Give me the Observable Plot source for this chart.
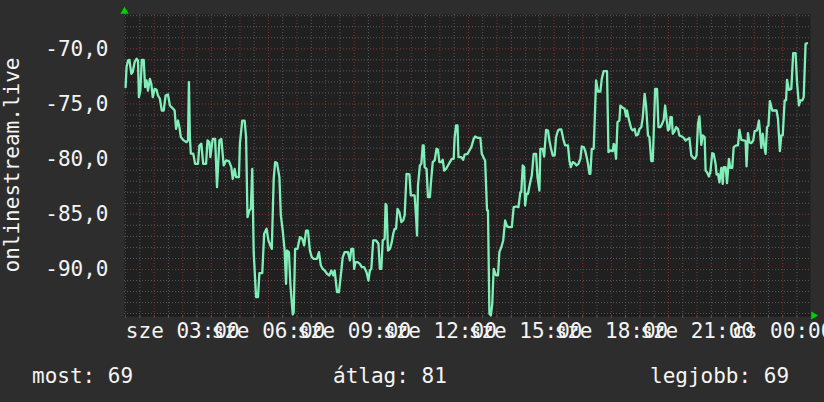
<!DOCTYPE html>
<html><head><meta charset="utf-8">
<script src="https://cdn.jsdelivr.net/npm/d3@7"></script>
<script src="https://cdn.jsdelivr.net/npm/@observablehq/plot@0.6"></script>
<style>
html,body{margin:0;padding:0;background:#2d2d2d;}
#wrap{width:824px;height:402px;position:relative;overflow:hidden;background:#2d2d2d;font-family:"DejaVu Sans Mono",monospace;color:#f4f4f4;}
#footer{position:relative;height:47px;font-size:21px;line-height:24px;}
#footer span{position:absolute;top:9px;white-space:pre;}
svg{display:block}
</style></head><body><div id="wrap"><div id="chart"></div><div id="footer"></div></div>
<script>
// minutes since 00:00 on "sze" (Wednesday)
const minutes = [60,62,65,68,72,75,79,83,86,88,91,94,98,101,104,107,111,114,117,121,125,128,132,136,140,144,149,153,158,163,166,170,173,176,182,188,191,193,195,197,202,206,212,215,219,223,229,232,236,238,243,248,252,257,261,266,271,277,282,285,289,292,298,300,
305,310,313,316,320,323,326,329,334,338,341,347,351,356,360,364,367,371,374,378,383,386,390,394,397,399,403,406,411,413,416,421,426,431,435,439,443,447,451,455,462,466,470,474,478,483,488,492,496,499,504,508,512,516,520,527,531,534,538,
540,543,547,552,556,561,566,570,573,576,580,586,591,594,597,600,604,606,608,611,615,619,622,625,628,631,635,639,643,646,650,656,659,667,670,672,674,678,681,684,686,688,692,695,699,701,705,709,713,716,719,723,726,729,733,737,741,745,749,751,754,757,759,765,769,772,778,782,786,
788,791,794,799,805,808,812,815,819,821,824,827,830,833,838,842,845,849,853,857,861,865,871,875,880,885,889,891,894,897,899,902,905,909,913,917,922,925,929,931,936,939,943,947,950,953,957,961,964,968,971,975,979,983,989,992,995,999,1003,1007,1011,1015,1018,1022,1025,1029,
1031,1034,1036,1039,1043,1045,1048,1052,1057,1060,1064,1071,1074,1078,1083,1085,1087,1090,1093,1097,1099,1104,1108,1111,1113,1117,1122,1125,1129,1132,1136,1139,1143,1146,1150,1153,1157,1160,1164,1167,1169,1172,1176,1179,1183,1186,1190,1193,1196,1199,1202,1204,1207,1209,1213,1216,1220,1223,1228,1232,1236,1241,1244,1248,1252,1255,1259,1262,1265,1269,1272,
1276,1278,1281,1285,1288,1292,1295,1299,1301,1304,1307,1311,1314,1316,1320,1323,1327,1330,1334,1337,1342,1346,1349,1353,1360,1362,1364,1367,1370,1374,1378,1381,1386,1390,1392,1395,1398,1400,1404,1407,1410,1413,1418,1427,1430,1434,1437,1440,1444,1447,1449,1453,1458,1462,1467,1470,1474,1477,1481,1484,1488,1491];
const dbValues = [-73.47,-71.66,-71.06,-71.0,-72.27,-72.1,-71.2,-70.9,-71.06,-74.38,-73.78,-71.0,-71.0,-73.47,-72.87,-73.78,-72.72,-73.17,-74.38,-73.63,-73.72,-74.23,-74.53,-75.59,-75.59,-74.23,-74.14,-75.14,-75.35,-75.59,-77.25,-76.5,-77.1,-78.0,-78.3,-78.46,-78.3,-73.02,-78.0,-79.5,-79.5,-80.42,-80.42,-78.76,-78.6,-80.42,-80.42,-78.3,-78.46,-79.82,-78.16,-78.16,-82.54,-78.3,-78.16,-80.57,-80.12,-80.18,-80.72,-81.78,-80.88,-81.63,-81.63,-78.6,
-76.5,-76.5,-78.0,-85.26,-84.65,-84.5,-80.88,-88.43,-92.5,-92.5,-90.33,-90.33,-86.77,-86.31,-87.37,-87.82,-88.13,-81.78,-80.27,-80.36,-81.63,-85.1,-86.47,-88.28,-91.3,-88.28,-88.43,-91.3,-94.08,-93.87,-88.13,-88.13,-87.07,-87.22,-87.82,-86.47,-86.47,-88.28,-88.88,-89.03,-89.03,-88.43,-89.64,-89.94,-90.09,-90.39,-90.54,-90.09,-90.54,-90.09,-92.05,-92.05,-90.54,-88.88,-88.43,-88.43,-89.18,-88.13,-88.13,
-89.94,-89.33,-89.33,-89.49,-89.79,-89.79,-90.24,-91.0,-90.09,-89.94,-87.37,-87.37,-87.67,-89.94,-89.94,-87.37,-87.22,-84.05,-84.2,-88.28,-88.13,-87.52,-86.77,-86.31,-86.31,-84.5,-84.8,-85.71,-85.56,-85.11,-81.33,-81.39,-83.29,-83.29,-85.26,-86.92,-82.39,-80.57,-80.42,-78.76,-78.76,-80.73,-80.88,-83.44,-83.44,-82.24,-80.27,-80.12,-79.06,-79.15,-80.27,-80.27,-80.06,-81.03,-80.88,-80.57,-80.27,-79.97,-79.97,-78.0,-76.95,-76.95,-79.82,-79.82,-80.06,-79.58,-79.52,-79.21,-78.91,
-78.61,-78.16,-77.95,-78.07,-78.07,-79.52,-79.88,-80.12,-84.65,-84.65,-94.02,-94.17,-93.11,-89.94,-90.54,-90.54,-88.43,-87.98,-87.37,-85.56,-86.1,-86.16,-86.16,-84.35,-84.29,-84.35,-82.99,-82.99,-80.57,-80.73,-84.2,-83.14,-83.14,-82.24,-81.48,-79.52,-79.52,-81.63,-82.84,-79.06,-79.06,-79.76,-77.34,-77.4,-78.31,-78.97,-79.67,-79.67,-78.0,-77.4,-77.31,-77.31,-78.16,-78.76,-78.76,-80.12,-80.73,-80.27,-80.36,-80.57,-80.42,-79.97,-78.85,-78.91,-79.21,-79.97,
-80.42,-81.33,-81.33,-79.06,-79.06,-76.65,-72.87,-73.87,-73.87,-72.72,-72.02,-72.02,-79.37,-79.21,-79.27,-78.61,-78.76,-79.97,-76.65,-76.5,-75.14,-75.35,-75.44,-76.13,-75.59,-76.44,-77.25,-77.4,-77.25,-77.85,-77.76,-77.28,-77.1,-76.25,-74.08,-75.14,-77.85,-78.0,-80.18,-80.18,-77.7,-73.63,-73.63,-77.1,-77.1,-76.86,-76.44,-75.14,-76.34,-77.4,-77.25,-76.19,-76.19,-77.7,-77.46,-77.1,-77.25,-77.85,-77.95,-78.07,-78.31,-78.16,-78.07,-79.67,-79.88,-79.97,-79.67,-76.8,-76.13,-78.7,-77.85,
-78.0,-81.03,-81.18,-81.57,-81.18,-79.46,-79.52,-80.42,-81.39,-81.33,-82.11,-80.79,-82.24,-80.73,-80.73,-82.18,-79.97,-80.79,-80.79,-78.91,-78.76,-78.76,-77.34,-78.25,-78.31,-78.37,-80.66,-77.64,-78.46,-78.55,-78.31,-77.46,-77.4,-76.5,-77.4,-78.97,-77.7,-78.46,-79.52,-77.1,-76.95,-74.74,-75.59,-75.59,-76.34,-79.27,-77.85,-77.85,-74.68,-74.68,-72.81,-73.72,-73.63,-70.39,-70.39,-73.02,-75.14,-74.68,-74.68,-74.38,-69.55,-69.49];

const xDomain = [57.7, 1498.3];          // 00:58 .. 00:58 next day
const yDomain = [-94.17, -66.89];
const yMajor = [-90, -85, -80, -75, -70];
const xTickMinutes = [180, 360, 540, 720, 900, 1080, 1260, 1440];
const xTickLabels = ["sze 03:00","sze 06:00","sze 09:00","sze 12:00","sze 15:00","sze 18:00","sze 21:00","cs 00:00"];
const yAxisLabel = "onlinestream.live";
const summaryNames = ["most", "átlag", "legjobb"];
const summaryValues = [69, 81, 69];

const data = minutes.map((m, i) => ({m, v: dbValues[i]}));
const yMinor = d3.range(-94, -66).filter(v => v % 5 !== 0);
const xMajor = d3.range(60, 1441, 60);
const xMinor = d3.range(90, 1471, 60);

const minorC = "#585858", majorC = "#7e3636";
const chart = Plot.plot({
  width: 824, height: 355,
  marginLeft: 124, marginRight: 14, marginTop: 14, marginBottom: 40,
  style: {background: "#2d2d2d", color: "#f4f4f4", fontFamily: "'DejaVu Sans Mono', monospace", fontSize: "21px", overflow: "visible"},
  x: {domain: xDomain},
  y: {domain: yDomain},
  marks: [
    Plot.frame({fill: "#202020", stroke: null}),
    Plot.ruleY(yMinor, {stroke: minorC, strokeDasharray: "1,2"}),
    Plot.ruleX(xMinor, {stroke: minorC, strokeDasharray: "1,2"}),
    Plot.ruleY(yMajor, {stroke: majorC, strokeDasharray: "1,2"}),
    Plot.ruleX(xMajor, {stroke: majorC, strokeDasharray: "1,2"}),
    Plot.ruleY([yDomain[0]], {stroke: "#1a1a1a", strokeWidth: 2}),
    Plot.ruleX(xMinor, {y1: yDomain[0], y2: yDomain[0], insetBottom: -3, stroke: "#5a5a5a"}),
    Plot.ruleX(xMajor, {y1: yDomain[0], y2: yDomain[0], insetBottom: -3, stroke: "#8a3a3a"}),
    Plot.line(data, {x: "m", y: "v", stroke: "#80eeb9", strokeWidth: 2.3}),
    Plot.axisY({ticks: yMajor, tickFormat: d => d.toFixed(1).replace(".", ","), tickSize: 0, tickPadding: 16, label: null, fontSize: 21}),
    Plot.axisX({ticks: xTickMinutes, tickFormat: (d) => xTickLabels[xTickMinutes.indexOf(d)], tickSize: 0, tickPadding: 8, label: null, fontSize: 21}),
    Plot.text([yAxisLabel], {frameAnchor: "left", text: d => d, rotate: -90, textAnchor: "middle", lineAnchor: "middle", dx: -112, fontSize: 21, fill: "#f4f4f4"}),
    Plot.dot([0], {x: () => xDomain[0], y: () => yDomain[1], symbol: "triangle", r: 3, fill: "#00d000", stroke: null, dy: -3}),
    Plot.dot([0], {x: () => xDomain[1], y: () => yDomain[0], symbol: "triangle", rotate: 90, r: 3, fill: "#00d000", stroke: null, dx: 3})
  ]
});
document.getElementById("chart").appendChild(chart);

const footer = document.getElementById("footer");
const lefts = [32, 333, 650];
summaryNames.forEach((n, i) => {
  const s = document.createElement("span");
  s.textContent = `${n}: ${summaryValues[i]}`;
  s.style.left = lefts[i] + "px";
  footer.appendChild(s);
});
</script></body></html>
